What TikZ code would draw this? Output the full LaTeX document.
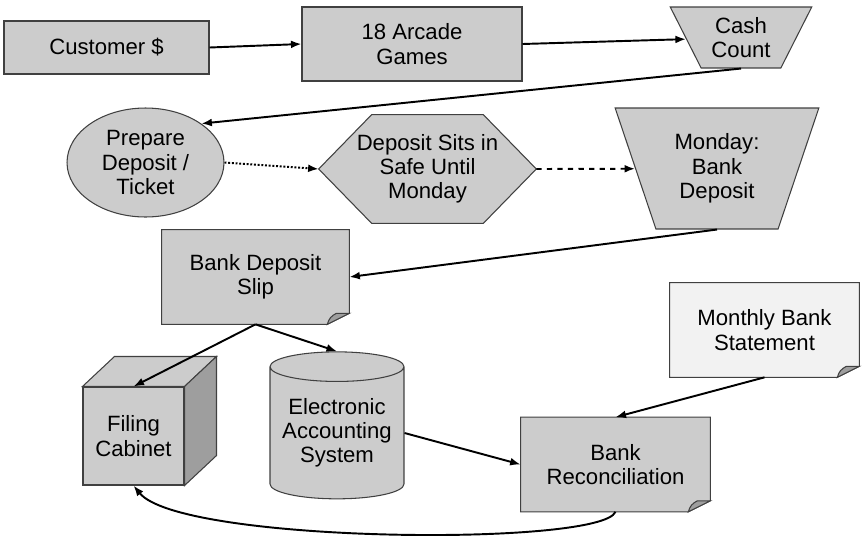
\documentclass[tikz,border=0pt]{standalone}
\usepackage{fontspec}
\setmainfont{Liberation Sans}
\usetikzlibrary{arrows.meta, shapes.geometric, calc, backgrounds}
\definecolor{boxgray}{gray}{0.80}
\definecolor{paper}{gray}{0.95}
\definecolor{sidegray}{gray}{0.62}
\definecolor{edge}{gray}{0.25}

\begin{document}
\begin{tikzpicture}[x=0.02cm, y=-0.02cm,
  every node/.style={font=\fontsize{12.6}{13.8}\selectfont, align=center},
  shp/.style={draw=edge, fill=boxgray, line width=0.6pt, inner sep=0pt},
  box/.style={shp, rectangle},
  doc/.style={rectangle, inner sep=0pt, minimum height=1.88cm},
  trap/.style={shp, trapezium, shape border rotate=180, trapezium stretches},
  flow/.style={-{Latex[length=6pt,width=4.5pt]}, line width=1.1pt},
]
\useasboundingbox (0,0) rectangle (863,535);

%% top row
\node[box, minimum width=4.1cm, minimum height=1.06cm] (cust) at (106.5,47.5) {Customer \$};
\node[box, minimum width=4.4cm, minimum height=1.48cm] (arcade) at (412,44) {18 Arcade\\Games};
\node[trap, trapezium angle=60.5, minimum width=2.84cm, minimum height=1.22cm] (cash) at (741,37.5) {Cash\\Count};

%% second row
\node[shp, ellipse, minimum width=3.14cm, minimum height=2.18cm] (prep) at (145.5,162.5) {Prepare\\Deposit /\\Ticket};
\node[rectangle, inner sep=0pt, minimum width=4.34cm, minimum height=2.16cm] (safe) at (427.5,169) {Deposit Sits in\\Safe Until\\Monday};
\node[trap, trapezium angle=67.7, minimum width=4.08cm, minimum height=2.42cm] (monday) at (717,168.5) {Monday:\\Bank\\Deposit};

%% documents
\node[doc, minimum width=3.74cm] (slip) at (255.5,277) {Bank Deposit\\Slip};
\node[doc, minimum width=3.78cm] (stmt) at (764.5,330) {Monthly Bank\\Statement};
\node[doc, minimum width=3.78cm] (recon) at (615.5,464.5) {Bank\\Reconciliation};

%% storage
\node[box, minimum width=2.02cm, minimum height=1.96cm] (cab) at (133.5,436) {Filing\\Cabinet};
\filldraw[shp] (cab.north west) -- ++(32,-30) -- ($(cab.north east)+(32,-30)$) -- (cab.north east) -- cycle;
\filldraw[shp, fill=sidegray] (cab.north east) -- ++(32,-30) -- ($(cab.south east)+(32,-30)$) -- (cab.south east) -- cycle;
\node[shp, cylinder, shape border rotate=90, aspect=0.27, minimum width=2.68cm, minimum height=2.94cm] (acct) at (337,433) {Electronic\\Accounting\\System};

%% outlines behind the texts
\begin{scope}[on background layer]
  \filldraw[shp] (safe.west) -- ($(safe.north west)+(53,0)$) -- ($(safe.north east)+(-53,0)$)
    -- (safe.east) -- ($(safe.south east)+(-53,0)$) -- ($(safe.south west)+(53,0)$) -- cycle;
  \foreach \n/\c in {slip/boxgray, recon/boxgray, stmt/paper}{
    \filldraw[shp, fill=\c] (\n.north west) -- (\n.north east) -- ($(\n.south east)+(0,-11)$)
      -- ($(\n.south east)+(-22,0)$) -- (\n.south west) -- cycle;
    \filldraw[shp, fill=sidegray] ($(\n.south east)+(-22,0)$) to[bend left=25] ($(\n.south east)+(-13,-11)$)
      -- ($(\n.south east)+(0,-11)$) -- cycle;
  }
\end{scope}

%% flow
\draw[flow] (cust.east) -- (arcade.west);
\draw[flow] (arcade.east) -- (cash);
\draw[flow] (cash.south) -- (prep.north east);
\draw[flow, densely dotted] (prep.east) -- (safe.west);
\draw[flow, dashed] (safe.east) -- (monday);
\draw[flow] (monday.south) -- (slip.east);
\draw[flow] (slip.south) -- (cab.north);
\draw[flow] (slip.south) -- (acct.north);
\draw[flow] (acct.east) -- (recon.west);
\draw[flow] (stmt.south) -- (recon.north);
\draw[flow] (recon.south) .. controls +(-15,35) and +(47,58) .. (cab.south);
\end{tikzpicture}
\end{document}
